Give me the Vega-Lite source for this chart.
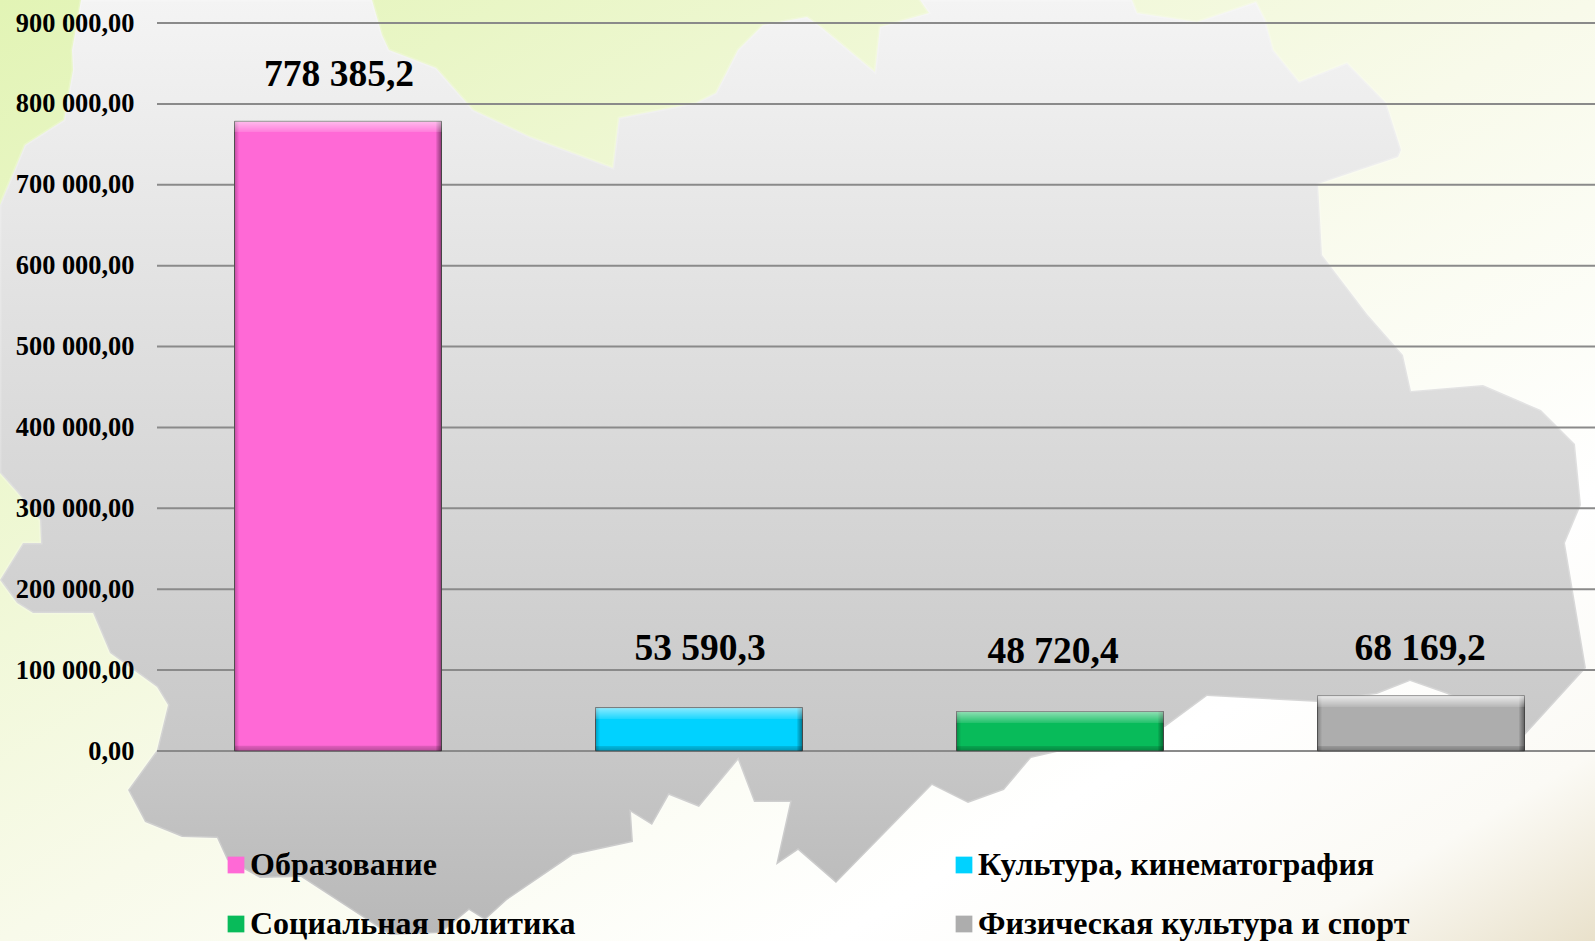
{"$schema":"https://vega.github.io/schema/vega-lite/v6.json","width":1438,"height":728,"padding":{"left":157,"top":23,"right":0,"bottom":190},"autosize":{"type":"none"},"background":"#fbfbf0","config":{"view":{"stroke":null}},"datasets":{"bars":[{"name":"Образование","value":778385.2,"label":"778 385,2"},{"name":"Культура, кинематография","value":53590.3,"label":"53 590,3"},{"name":"Социальная политика","value":48720.4,"label":"48 720,4"},{"name":"Физическая культура и спорт","value":68169.2,"label":"68 169,2"}],"ticks":[{"tick":0},{"tick":100000},{"tick":200000},{"tick":300000},{"tick":400000},{"tick":500000},{"tick":600000},{"tick":700000},{"tick":800000},{"tick":900000}]},"layer":[{"data":{"values":[{"type":"Feature","properties":{},"geometry":{"type":"Polygon","coordinates":[[[0,0],[1595,0],[1595,941],[0,941],[0,0]]]}}]},"projection":{"type":"identity","scale":1,"translate":[-157,-23]},"mark":{"type":"geoshape","clip":false,"strokeWidth":0,"fill":{"gradient":"linear","x1":0,"y1":0,"x2":1,"y2":1,"stops":[{"offset":0,"color":"#e2f4b5"},{"offset":0.5,"color":"#f8faea"},{"offset":0.76,"color":"#ffffff"},{"offset":0.9,"color":"#fbfaf5"},{"offset":1,"color":"#e9e1cb"}]}}},{"data":{"values":[{"type":"Feature","properties":{},"geometry":{"type":"Polygon","coordinates":[[[81,0],[372,0],[382,35],[389,50],[436,68],[473,110],[530,137],[613,168],[619,118],[696,103],[716,93],[738,50],[763,25],[807,17],[821,27],[875,72],[880,27],[929,13],[920,0],[1132,0],[1137,13],[1197,22],[1256,2],[1265,20],[1273,50],[1299,82],[1347,63],[1386,103],[1401,150],[1398,157],[1318,184],[1322,255],[1367,314],[1403,355],[1411,391],[1483,385],[1541,410],[1575,444],[1581,505],[1565,543],[1586,668],[1525,735],[1447,694],[1410,681],[1377,694],[1318,702],[1207,696],[1165,727],[1031,758],[1004,790],[968,803],[932,785],[836,883],[798,850],[776,865],[790,802],[754,802],[738,760],[699,807],[669,795],[652,825],[631,812],[633,842],[573,855],[507,900],[485,920],[469,910],[441,933],[390,935],[301,877],[260,878],[227,860],[217,838],[182,837],[145,822],[128,790],[157,750],[168,705],[157,687],[110,653],[93,613],[33,613],[17,603],[0,580],[23,543],[41,543],[40,520],[17,492],[0,473],[0,205],[25,145],[64,120],[73,70],[72,50],[81,0]]]}}]},"projection":{"type":"identity","scale":1,"translate":[-157,-23]},"mark":{"type":"geoshape","clip":false,"stroke":"#ffffff","strokeOpacity":0.2,"strokeWidth":3,"fill":{"gradient":"linear","x1":0,"y1":0,"x2":0,"y2":1,"stops":[{"offset":0,"color":"#f4f4f4"},{"offset":0.33,"color":"#e1e1e1"},{"offset":0.8,"color":"#c8c8c8"},{"offset":1,"color":"#b8b8b8"}]}}},{"data":{"name":"ticks"},"mark":{"type":"rule","color":"#8a8a8a","strokeWidth":2},"encoding":{"y":{"field":"tick","type":"quantitative","scale":{"domain":[0,900000]},"axis":{"values":[0,100000,200000,300000,400000,500000,600000,700000,800000,900000],"labelExpr":"replace(replace(format(datum.value,',.2f'),/,/g,' '),'.',',')","title":null,"domain":false,"ticks":false,"grid":false,"labelFont":"Liberation Serif","labelFontSize":26.4,"labelFontWeight":"bold","labelColor":"#000000","labelPadding":23,"zindex":1}}}},{"data":{"name":"bars"},"mark":{"type":"bar","width":207,"stroke":"#5a5a5a","strokeWidth":1},"encoding":{"x":{"field":"name","type":"nominal","sort":null,"scale":{"range":[0.5,1444.5],"paddingInner":0,"paddingOuter":0},"axis":null},"y":{"field":"value","type":"quantitative"},"color":{"field":"name","type":"nominal","sort":null,"scale":{"domain":["Образование","Культура, кинематография","Социальная политика","Физическая культура и спорт"],"range":["#ff69d6","#00d2ff","#08bb5a","#adadad"]},"legend":{"orient":"none","legendX":63,"legendY":826,"columns":2,"direction":"horizontal","title":null,"symbolType":"square","symbolSize":280,"symbolStrokeWidth":0,"labelFont":"Liberation Serif","labelFontSize":32,"labelFontWeight":"bold","labelColor":"#000000","labelOffset":-2,"columnPadding":372,"rowPadding":27,"labelLimit":600}}}},{"data":{"name":"bars"},"mark":{"type":"bar","width":207,"fill":{"gradient":"linear","x1":0,"y1":0,"x2":1,"y2":0,"stops":[{"offset":0,"color":"rgba(0,0,0,0.25)"},{"offset":0.02,"color":"rgba(0,0,0,0.03)"},{"offset":0.021,"color":"rgba(0,0,0,0)"},{"offset":0.975,"color":"rgba(0,0,0,0)"},{"offset":0.976,"color":"rgba(0,0,0,0.1)"},{"offset":1,"color":"rgba(0,0,0,0.45)"}]}},"encoding":{"x":{"field":"name","type":"nominal","sort":null,"axis":null},"y":{"field":"value","type":"quantitative"}}},{"data":{"name":"bars"},"transform":[{"filter":"datum.value > 700000"}],"mark":{"type":"bar","width":207,"fill":{"gradient":"linear","x1":0,"y1":0,"x2":0,"y2":1,"stops":[{"offset":0,"color":"rgba(255,255,255,0.55)"},{"offset":0.0175,"color":"rgba(255,255,255,0.12)"},{"offset":0.0176,"color":"rgba(255,255,255,0)"},{"offset":0.991,"color":"rgba(0,0,0,0)"},{"offset":0.992,"color":"rgba(0,0,0,0.12)"},{"offset":1,"color":"rgba(0,0,0,0.28)"}]}},"encoding":{"x":{"field":"name","type":"nominal","sort":null,"axis":null},"y":{"field":"value","type":"quantitative"}}},{"data":{"name":"bars"},"transform":[{"filter":"datum.value > 50000 && datum.value < 60000"}],"mark":{"type":"bar","width":207,"fill":{"gradient":"linear","x1":0,"y1":0,"x2":0,"y2":1,"stops":[{"offset":0,"color":"rgba(255,255,255,0.55)"},{"offset":0.254,"color":"rgba(255,255,255,0.12)"},{"offset":0.255,"color":"rgba(255,255,255,0)"},{"offset":0.885,"color":"rgba(0,0,0,0)"},{"offset":0.886,"color":"rgba(0,0,0,0.12)"},{"offset":1,"color":"rgba(0,0,0,0.28)"}]}},"encoding":{"x":{"field":"name","type":"nominal","sort":null,"axis":null},"y":{"field":"value","type":"quantitative"}}},{"data":{"name":"bars"},"transform":[{"filter":"datum.value < 50000"}],"mark":{"type":"bar","width":207,"fill":{"gradient":"linear","x1":0,"y1":0,"x2":0,"y2":1,"stops":[{"offset":0,"color":"rgba(255,255,255,0.55)"},{"offset":0.279,"color":"rgba(255,255,255,0.12)"},{"offset":0.28,"color":"rgba(255,255,255,0)"},{"offset":0.873,"color":"rgba(0,0,0,0)"},{"offset":0.874,"color":"rgba(0,0,0,0.12)"},{"offset":1,"color":"rgba(0,0,0,0.28)"}]}},"encoding":{"x":{"field":"name","type":"nominal","sort":null,"axis":null},"y":{"field":"value","type":"quantitative"}}},{"data":{"name":"bars"},"transform":[{"filter":"datum.value > 60000 && datum.value < 100000"}],"mark":{"type":"bar","width":207,"fill":{"gradient":"linear","x1":0,"y1":0,"x2":0,"y2":1,"stops":[{"offset":0,"color":"rgba(255,255,255,0.75)"},{"offset":0.2,"color":"rgba(255,255,255,0.12)"},{"offset":0.201,"color":"rgba(255,255,255,0)"},{"offset":0.91,"color":"rgba(0,0,0,0)"},{"offset":0.911,"color":"rgba(0,0,0,0.12)"},{"offset":1,"color":"rgba(0,0,0,0.28)"}]}},"encoding":{"x":{"field":"name","type":"nominal","sort":null,"axis":null},"y":{"field":"value","type":"quantitative"}}},{"data":{"name":"bars"},"transform":[{"filter":"datum.value > 700000"}],"mark":{"type":"text","dx":1,"dy":-46.5,"font":"Liberation Serif","fontSize":37.5,"fontWeight":"bold","color":"#000000"},"encoding":{"x":{"field":"name","type":"nominal","sort":null,"axis":null},"y":{"field":"value","type":"quantitative"},"text":{"field":"label"}}},{"data":{"name":"bars"},"transform":[{"filter":"datum.value > 50000 && datum.value < 60000"}],"mark":{"type":"text","dx":1,"dy":-58.5,"font":"Liberation Serif","fontSize":37.5,"fontWeight":"bold","color":"#000000"},"encoding":{"x":{"field":"name","type":"nominal","sort":null,"axis":null},"y":{"field":"value","type":"quantitative"},"text":{"field":"label"}}},{"data":{"name":"bars"},"transform":[{"filter":"datum.value < 50000"}],"mark":{"type":"text","dx":-7,"dy":-60,"font":"Liberation Serif","fontSize":37.5,"fontWeight":"bold","color":"#000000"},"encoding":{"x":{"field":"name","type":"nominal","sort":null,"axis":null},"y":{"field":"value","type":"quantitative"},"text":{"field":"label"}}},{"data":{"name":"bars"},"transform":[{"filter":"datum.value > 60000 && datum.value < 100000"}],"mark":{"type":"text","dx":-1,"dy":-47,"font":"Liberation Serif","fontSize":37.5,"fontWeight":"bold","color":"#000000"},"encoding":{"x":{"field":"name","type":"nominal","sort":null,"axis":null},"y":{"field":"value","type":"quantitative"},"text":{"field":"label"}}}]}
